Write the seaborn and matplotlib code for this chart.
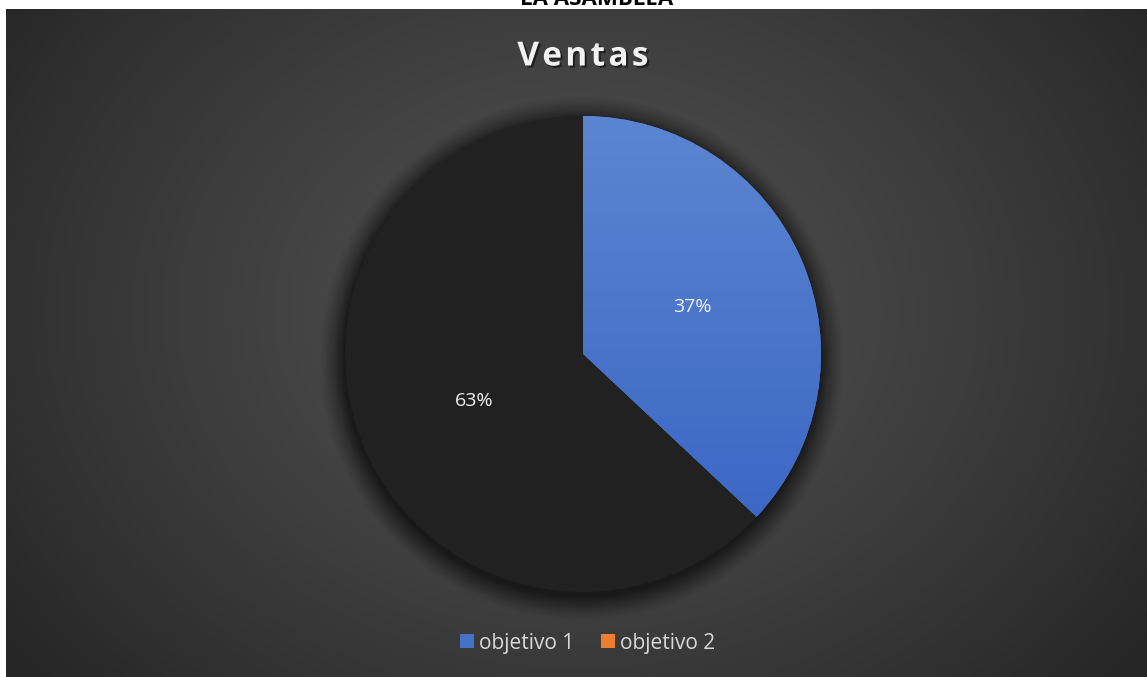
import numpy as np
import matplotlib
matplotlib.use("Agg")
import matplotlib.pyplot as plt
import seaborn as sns
from matplotlib.patches import Circle
from matplotlib.lines import Line2D
import matplotlib.patheffects as pe

# ---- data ----
categories = ["objetivo 1", "objetivo 2"]
values = [37, 63]
title = "Ventas"
top_text = "LA ASAMBLEA"

slice_colors = ["#4a74c9", "#212121"]
legend_colors = ["#4472c4", "#ed7d31"]

sns.set_theme(style="white")
plt.rcParams['font.family'] = ['Open Sans', 'DejaVu Sans']

W, H = 1147, 677
fig = plt.figure(figsize=(W / 100, H / 100), dpi=100, facecolor="white")

# ---- background with radial gradient ----
bg = fig.add_axes([6 / W, 0, (W - 6) / W, (H - 9) / H])
bg.set_axis_off()
ny, nx = 300, 500
yy, xx = np.mgrid[0:ny, 0:nx]
cx, cy = nx * 0.5, ny * 0.45
d = np.sqrt(((xx - cx) / (nx * 0.62)) ** 2 + ((yy - cy) / (ny * 0.85)) ** 2)
d = np.clip(d, 0, 1)
inner = np.array([0x50, 0x50, 0x50]) / 255
outer = np.array([0x26, 0x26, 0x26]) / 255
img = inner[None, None, :] * (1 - d[..., None] ** 1.3) + outer[None, None, :] * (d[..., None] ** 1.3)
bg.imshow(img, aspect="auto", extent=[0, 1, 0, 1], origin="upper")
bg.set_xlim(0, 1)
bg.set_ylim(0, 1)

# ---- pie ----
cxp, cyp, r = 583, 354, 238
ax = fig.add_axes([(cxp - r) / W, (H - cyp - r) / H, 2 * r / W, 2 * r / H])
ax.set_axis_off()
ax.set_xlim(-1, 1)
ax.set_ylim(-1, 1)

# soft shadow / glow
for rr, a in zip(np.linspace(1.10, 1.0, 14), np.linspace(0.015, 0.10, 14)):
    ax.add_patch(Circle((-0.005, -0.02), rr, color="black", alpha=a, lw=0, zorder=0,
                        clip_on=False))

wedges, texts, autotexts = ax.pie(
    values, colors=slice_colors, startangle=90, counterclock=False,
    radius=1, autopct="%1.0f%%", pctdistance=0.5,
    wedgeprops=dict(linewidth=0), textprops=dict(color="#f2f2f2", fontsize=14))
ax.set_aspect("auto")

# gradient fill for the blue slice
grad = np.linspace(0, 1, 256)[:, None]
top_c = np.array([0x5c, 0x85, 0xd1]) / 255
bot_c = np.array([0x36, 0x62, 0xc2]) / 255
gimg = top_c[None, None, :] * (1 - grad[..., None]) + bot_c[None, None, :] * grad[..., None]
gimg = np.repeat(gimg, 4, axis=1)
im = ax.imshow(gimg, extent=[-1, 1, -1, 1], aspect="auto", origin="upper", zorder=2)
im.set_clip_path(wedges[0])
ax.set_xlim(-1, 1)
ax.set_ylim(-1, 1)
for t in autotexts:
    t.set_zorder(5)

# ---- title (letter-spaced) ----
spaced_title = "\u200a".join(title)
fig.text(cxp / W, 1 - 57 / H, spaced_title, ha="center", va="center", color="#f2f2f2",
         fontsize=24, fontweight="bold",
         path_effects=[pe.withSimplePatchShadow(offset=(1.5, -1.5), shadow_rgbFace="black", alpha=0.5)])

# cut-off text at top (as in the reference)
fig.text(597 / W, 1 - 5 / H, top_text, ha="center", va="baseline", color="black",
         fontsize=16, fontweight="bold")

# ---- legend ----
handles = [Line2D([0], [0], marker="s", linestyle="none", markersize=10,
                  markerfacecolor=c, markeredgewidth=0) for c in legend_colors]
leg = fig.legend(handles, categories, loc="center", bbox_to_anchor=(587 / W, 1 - 643 / H),
                 ncol=2, frameon=False, fontsize=15, handletextpad=0.2, columnspacing=1.2,
                 handlelength=0.8)
for t in leg.get_texts():
    t.set_color("#d9d9d9")

fig.savefig("out.png", dpi=100, facecolor="white")
